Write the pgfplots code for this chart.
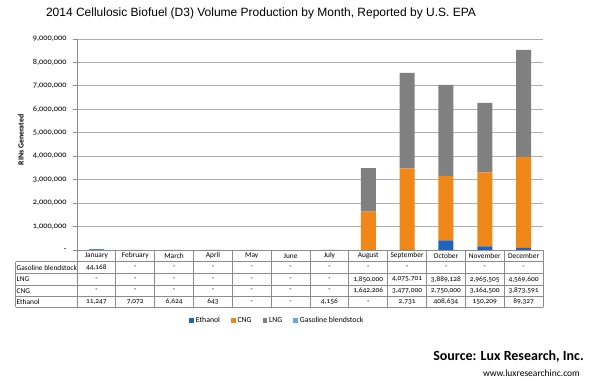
\documentclass[border=0pt]{standalone}
\usepackage{pgfplots}
\pgfplotsset{compat=1.18}
\usepackage{fontspec}
\setmainfont{Liberation Sans}
\newfontfamily\calfont[Numbers=OldStyle]{Carlito}
\definecolor{eth}{RGB}{30,100,190}
\definecolor{cng}{RGB}{240,135,25}
\definecolor{lng}{RGB}{128,128,128}
\definecolor{gas}{RGB}{95,170,230}
\definecolor{gridc}{RGB}{175,175,175}
\definecolor{tabc}{RGB}{140,140,140}
\begin{document}
\begin{tikzpicture}[x=1pt,y=1pt]
\fill[white] (-77,-130) rectangle (514,250);
\begin{axis}[at={(0,0)}, anchor=south west, scale only axis,
  width=466pt, height=211pt,
  ybar stacked, bar width=15pt,
  xmin=-0.5, xmax=11.5, ymin=0, ymax=9000000,
  axis x line=none, axis y line=left,
  axis line style={-, draw=tabc, line width=0.8pt},
  scaled y ticks=false,
  ytick={0,1000000,2000000,3000000,4000000,5000000,6000000,7000000,8000000,9000000},
  yticklabels={{-},{1,000,000},{2,000,000},{3,000,000},{4,000,000},{5,000,000},{6,000,000},{7,000,000},{8,000,000},{9,000,000}},
  ymajorgrids, grid style={gridc, line width=0.8pt},
  major tick length=4pt, tick align=outside, tick style={tabc, line width=0.8pt},
  yticklabel style={font=\calfont\fontsize{8.3}{9}\selectfont, xshift=-3pt},
  clip=false,
  legend style={at={(0.43,-0.335)}, anchor=center, draw=none, fill=none,
    legend columns=4, font=\calfont\fontsize{7.8}{8}\selectfont,
    /tikz/every even column/.append style={column sep=9pt},
    legend cell align=left},
  legend image code/.code={\fill[#1] (0pt,-2.2pt) rectangle (4.5pt,2.2pt);},
]
\addplot[fill=eth, draw=none] coordinates {(0,11247) (1,7072) (2,6624) (3,643) (4,0) (5,0) (6,4156) (7,0) (8,2731) (9,408634) (10,150209) (11,89327)};
\addplot[fill=cng, draw=none] coordinates {(0,0) (1,0) (2,0) (3,0) (4,0) (5,0) (6,0) (7,1642206) (8,3477000) (9,2750000) (10,3164500) (11,3873591)};
\addplot[fill=lng, draw=none] coordinates {(0,0) (1,0) (2,0) (3,0) (4,0) (5,0) (6,0) (7,1850000) (8,4075701) (9,3889128) (10,2965505) (11,4569600)};
\addplot[fill=gas, draw=none] coordinates {(0,44168) (1,0) (2,0) (3,0) (4,0) (5,0) (6,0) (7,0) (8,0) (9,0) (10,0) (11,0)};
\legend{Ethanol,CNG,LNG,Gasoline blendstock}
\end{axis}
% table
\def\cw{38.833}
\begin{scope}[draw=tabc, line width=0.7pt]
\draw (0,0) -- (466,0);
\foreach \yy in {-11.7,-23.3,-35,-46.7,-57.3} {\draw (-61.4,\yy) -- (466,\yy);}
\draw (-61.4,-11.7) -- (-61.4,-57.3);
\foreach \k in {0,...,12} {\draw ({\k*\cw},0) -- ({\k*\cw},-57.3);}
\end{scope}
\begin{scope}[every node/.style={font=\calfont\fontsize{7.4}{8}\selectfont, inner sep=0pt}]
\foreach \m [count=\i from 0] in {January,February,March,April,May,June,July,August,September,October,November,December}
  {\node at ({(\i+0.5)*\cw},-5.8) {\m};}
\node[anchor=west] at (-60.5,-17.5) {Gasoline blendstock};
\node[anchor=west] at (-60.5,-29.2) {LNG};
\node[anchor=west] at (-60.5,-40.8) {CNG};
\node[anchor=west] at (-60.5,-52) {Ethanol};
\foreach \v [count=\i from 0] in {{44,168},-,-,-,-,-,-,-,-,-,-,-}
  {\node at ({(\i+0.5)*\cw},-17.5) {\v};}
\foreach \v [count=\i from 0] in {-,-,-,-,-,-,-,{1,850,000},{4,075,701},{3,889,128},{2,965,505},{4,569,600}}
  {\node at ({(\i+0.5)*\cw},-29.2) {\v};}
\foreach \v [count=\i from 0] in {-,-,-,-,-,-,-,{1,642,206},{3,477,000},{2,750,000},{3,164,500},{3,873,591}}
  {\node at ({(\i+0.5)*\cw},-40.8) {\v};}
\foreach \v [count=\i from 0] in {{11,247},{7,072},{6,624},643,-,-,{4,156},-,{2,731},{408,634},{150,209},{89,327}}
  {\node at ({(\i+0.5)*\cw},-52) {\v};}
\end{scope}
\node[rotate=90, font=\calfont\bfseries\fontsize{7.8}{8}\selectfont] at (-56,110) {RINs Generated};
\node[font=\fontsize{12}{14}\selectfont] at (184,237) {2014 Cellulosic Biofuel (D3) Volume Production by Month, Reported by U.S. EPA};
\node[anchor=east, font=\calfont\bfseries\fontsize{14}{16}\selectfont, inner sep=0pt] at (507,-107) {Source: Lux Research, Inc.};
\node[anchor=east, font=\calfont\fontsize{9.5}{10}\selectfont, inner sep=0pt] at (503,-123) {www.luxresearchinc.com};
\end{tikzpicture}
\end{document}
